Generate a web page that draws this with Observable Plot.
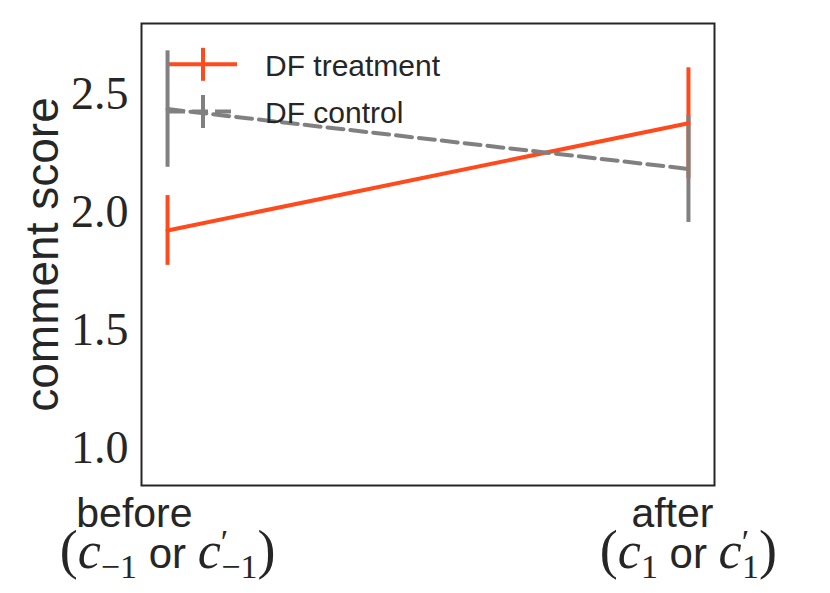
<!DOCTYPE html>
<html><head><meta charset="utf-8">
<script src="https://cdn.jsdelivr.net/npm/d3@7"></script>
<script src="https://cdn.jsdelivr.net/npm/@observablehq/plot@0.6"></script>
<style>
body{margin:0;background:#fff}
#chart{position:relative;width:830px;height:593px}
</style>
</head><body><div id="chart"></div>
<script>
// ---- data ----
const conditions = ["before", "after"];
const xPos = [0, 1];
const xSubs = ["−1", "1"];
const treatmentMean = [1.922, 2.377];
const treatmentErr = [0.148, 0.235];
const controlMean = [2.437, 2.183];
const controlErr = [0.247, 0.227];
const yTicks = [1.0, 1.5, 2.0, 2.5];
const seriesNames = ["DF treatment", "DF control"];
const seriesColors = ["#FF4A1E", "#808080"];

const rows = conditions.map((c, i) => ({
  cond: c, x: xPos[i], sub: xSubs[i],
  tm: treatmentMean[i], tlo: treatmentMean[i] - treatmentErr[i], thi: treatmentMean[i] + treatmentErr[i],
  cm: controlMean[i], clo: controlMean[i] - controlErr[i], chi: controlMean[i] + controlErr[i]
}));

const SANS = "'Liberation Sans', Arial, sans-serif";
const SERIF = "'Liberation Serif', 'Times New Roman', serif";
const TXT = "#262626";
const DASH = "16,7";

const plot = Plot.plot({
  width: 830, height: 593,
  marginTop: 23, marginRight: 116, marginBottom: 108, marginLeft: 141,
  style: {background: "#fff", color: TXT, overflow: "visible"},
  x: {domain: [-0.05, 1.05], axis: null},
  y: {domain: [0.84, 2.80], axis: null},
  marks: [
    Plot.axisY(yTicks, {tickSize: 0, tickPadding: 13, tickFormat: d3.format(".1f"),
      fontSize: 46, fontFamily: SERIF, fill: TXT, label: null}),
    Plot.ruleX(rows, {x: "x", y1: "tlo", y2: "thi", stroke: seriesColors[0], strokeWidth: 4}),
    Plot.ruleX(rows, {x: "x", y1: "clo", y2: "chi", stroke: seriesColors[1], strokeWidth: 4}),
    Plot.line(rows, {x: "x", y: "tm", stroke: seriesColors[0], strokeWidth: 4}),
    Plot.line(rows, {x: "x", y: "cm", stroke: seriesColors[1], strokeWidth: 4, strokeDasharray: DASH}),
    Plot.frame({stroke: TXT, strokeWidth: 2}),
    Plot.text(["comment score"], {text: d => d, frameAnchor: "left", textAnchor: "middle", rotate: -90, dx: -98,
      lineAnchor: "middle", fontSize: 46, fontFamily: SANS, fill: TXT}),
    Plot.text(rows, {x: "x", text: "cond", frameAnchor: "bottom", textAnchor: "end", dx: 25, dy: 28,
      lineAnchor: "middle", fontSize: 41, fontFamily: SANS, fill: TXT}),
    Plot.text(rows, {x: "x", text: d => `(c${d.sub} or c′${d.sub})`, frameAnchor: "bottom", textAnchor: "middle", dy: 66,
      lineAnchor: "middle", fontSize: 52, fontFamily: SERIF, fill: TXT})
  ]
});

// rich text for the second x-label line
const subTexts = d3.select(plot).selectAll("text").filter(function() {
  return this.textContent.startsWith("(c");
});
subTexts.each(function(_, i) {
  const d = rows[i];
  const t = d3.select(this);
  t.text(null);
  t.append("tspan").attr("font-size", 54).text("(");
  t.append("tspan").attr("font-style", "italic").text("c");
  t.append("tspan").attr("font-size", 34).attr("dy", 10).text(d.sub);
  t.append("tspan").attr("dy", -10).attr("font-family", SANS).attr("font-size", 42).text(" or ");
  t.append("tspan").attr("font-style", "italic").text("c");
  t.append("tspan").attr("font-size", 34).attr("dy", -15).text("′");
  t.append("tspan").attr("font-size", 34).attr("dy", 25).attr("dx", -7).text(d.sub);
  t.append("tspan").attr("dy", -10).attr("font-size", 54).text(")");
});

// legend (upper-left, inside the frame)
const lg = d3.select(plot).append("g").attr("transform", "translate(141,23)");
seriesNames.forEach((name, i) => {
  const y = 41.3 + i * 47.2;
  const g = lg.append("g");
  g.append("line").attr("x1", 28).attr("x2", 96).attr("y1", y).attr("y2", y)
    .attr("stroke", seriesColors[i]).attr("stroke-width", 4)
    .attr("stroke-dasharray", i === 1 ? DASH : null);
  g.append("line").attr("x1", 62).attr("x2", 62).attr("y1", y - 16.5).attr("y2", y + 16.5)
    .attr("stroke", seriesColors[i]).attr("stroke-width", 4);
  g.append("text").attr("x", 124).attr("y", y + 11.5).attr("text-anchor", "start")
    .attr("font-family", SANS).attr("font-size", 30).attr("fill", TXT).text(name);
});

document.getElementById("chart").appendChild(plot);
</script>
</body></html>
